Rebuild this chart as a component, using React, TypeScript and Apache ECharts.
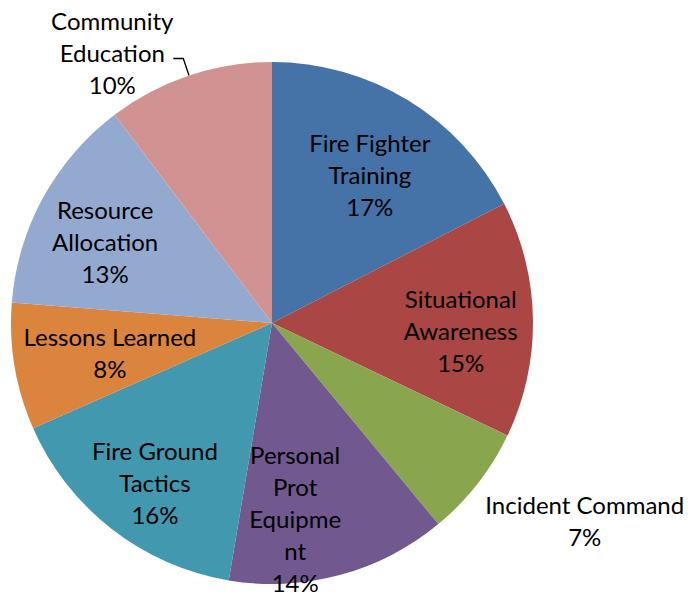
import React, { useEffect, useRef } from 'react';
import * as echarts from 'echarts';

const categories = [
  'Fire Fighter Training',
  'Situational Awareness',
  'Incident Command',
  'Personal Prot Equipment',
  'Fire Ground Tactics',
  'Lessons Learned',
  'Resource Allocation',
  'Community Education',
];
const values = [17.45, 14.65, 6.9, 13.65, 15.75, 7.85, 13.45, 10.3];
const labelTexts = [
  'Fire Fighter\nTraining',
  'Situational\nAwareness',
  'Incident Command',
  'Personal\nProt\nEquipme\nnt',
  'Fire Ground\nTactics',
  'Lessons Learned',
  'Resource\nAllocation',
  'Community\nEducation',
];
const colors = ['#4572A7', '#AA4643', '#89A54E', '#71588F', '#4198AF', '#DB843D', '#93A9CF', '#D19392'];

// label nudges [dx, dy] relative to the library's own label placement
const nudges: number[][] = [
  [1, 10],
  [3, 10],
  [102, 37],
  [-25, 16],
  [-3, 13],
  [21, -2],
  [-4, 8],
  [0, 0],
];

const FONT = 'Lato';
const FS = 24;
const LH = 32;

export default function App() {
  const ref = useRef<HTMLDivElement>(null);
  useEffect(() => {
    document.body.style.margin = '0';
    const chart = echarts.init(ref.current!, null, { renderer: 'svg' });
    const R = 261;
    const center = [272, 323];
    const outsideIdx = [2, 7];
    chart.setOption({
      animation: false,
      backgroundColor: '#fff',
      series: [
        {
          type: 'pie',
          silent: true,
          center,
          radius: R,
          startAngle: 90,
          clockwise: true,
          avoidLabelOverlap: false,
          label: { show: false },
          labelLine: { show: false },
          data: categories.map((name, i) => ({
            name,
            value: values[i],
            itemStyle: { color: colors[i] },
          })),
        },
        {
          type: 'pie',
          silent: true,
          center,
          radius: [R * 0.4, R],
          startAngle: 90,
          clockwise: true,
          percentPrecision: 0,
          avoidLabelOverlap: false,
          itemStyle: { color: 'rgba(0,0,0,0)' },
          label: {
            show: true,
            position: 'inside',
            color: '#000',
            fontFamily: FONT,
            fontSize: FS,
            lineHeight: LH,
            textBorderWidth: 0,
            textShadowBlur: 0,
            formatter: (p: any) => {
              const t = labelTexts[p.dataIndex] + '\n' + p.percent + '%';
              if (p.dataIndex === 7) {
                return t
                  .split('\n')
                  .map((s) => `{c|${s}}`)
                  .join('\n');
              }
              return t;
            },
            rich: {
              c: {
                width: 112,
                align: 'center',
                fontFamily: FONT,
                fontSize: FS,
                lineHeight: LH,
                color: '#000',
              },
            },
          },
          labelLine: { show: false },
          labelLayout: (params: any) => {
            const i = params.dataIndex;
            if (i === 7) return {};
            const out: any = { dx: nudges[i][0], dy: nudges[i][1] };
            if (i === 2) out.align = 'center';
            return out;
          },
          data: categories.map((name, i) => {
            const item: any = { name, value: values[i] };
            if (outsideIdx.includes(i)) {
              item.label = { position: 'outside' };
              if (i === 7) {
                item.label.padding = [0, 0, 12, 0];
                item.labelLine = {
                  show: true,
                  length: 18,
                  length2: 10,
                  lineStyle: { color: '#000', width: 1.3 },
                };
              } else {
                item.labelLine = { show: false, length: 0, length2: 0 };
              }
            }
            return item;
          }),
        },
      ],
    });
    return () => chart.dispose();
  }, []);
  return <div ref={ref} style={{ width: 691, height: 596 }} />;
}
